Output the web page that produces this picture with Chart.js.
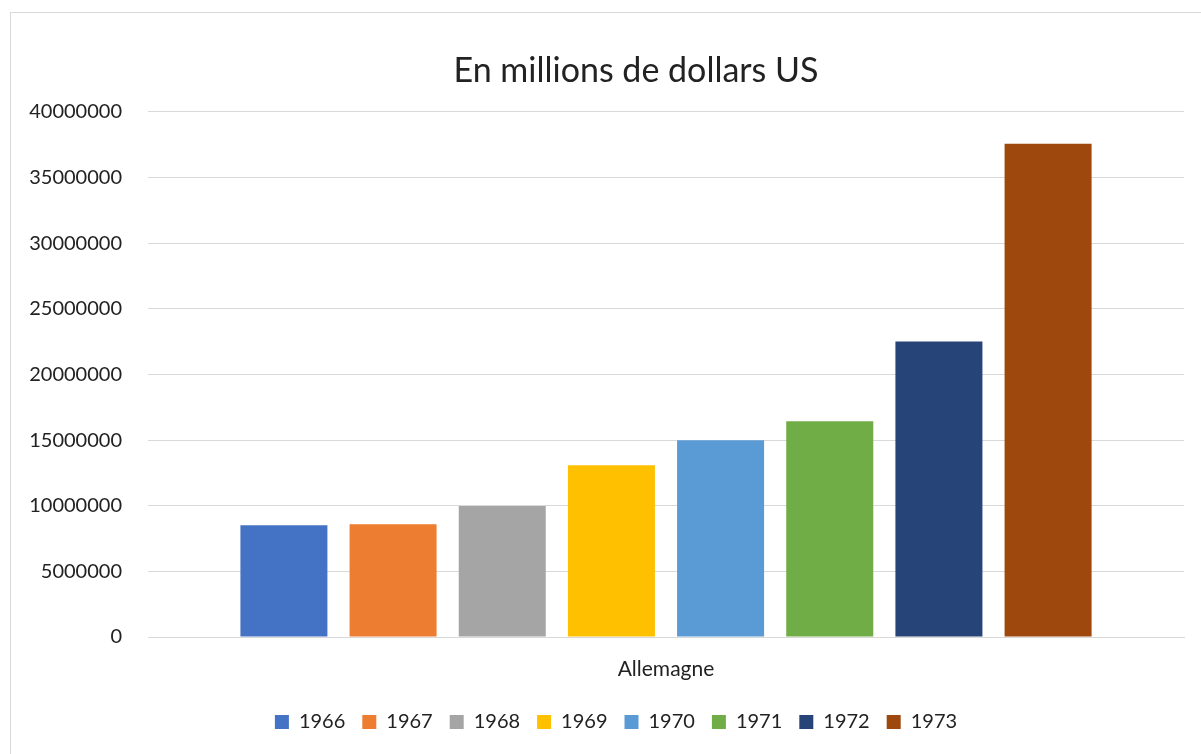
<!DOCTYPE html>
<html>
<head>
<meta charset="utf-8">
<script src="https://cdn.jsdelivr.net/npm/chart.js@4"></script>
<style>
  html, body { margin: 0; padding: 0; background: #fff; overflow: hidden; }
  #frame { position: absolute; left: 10px; top: 12px; width: 1200px; height: 760px; border: 1px solid #d9d9d9; box-sizing: border-box; }
  #chart { position: absolute; left: 0; top: 0; }
</style>
</head>
<body>
<div id="frame"></div>
<canvas id="chart" width="1201" height="754"></canvas>
<script>
// one category, one series per year
var categories = ['Allemagne'];
var years = ['1966', '1967', '1968', '1969', '1970', '1971', '1972', '1973'];
var values = [8520000, 8590000, 9980000, 13080000, 14980000, 16430000, 22510000, 37570000];
var colors = ['#4472C4', '#ED7D31', '#A5A5A5', '#FFC000', '#5B9BD5', '#70AD47', '#264478', '#9E480E'];

var font = 'Lato, "Open Sans", sans-serif';
var textColor = '#222';

var datasets = years.map(function (y, i) {
    return {
        label: y,
        data: [values[i]],
        backgroundColor: colors[i],
        borderWidth: 0
    };
});

// title and legend are centred on the frame, not on the plot
const boxShift = {
    id: 'boxShift',
    beforeDraw: function (chart) {
        var moves = [[chart.titleBlock, 44], [chart.legend, 24]];
        moves.forEach(function (m) {
            var b = m[0];
            if (b && !b._shifted) {
                b.left += m[1];
                b.right += m[1];
                b._shifted = true;
            }
        });
    }
};

const ctx = document.getElementById('chart');
new Chart(ctx, {
    type: 'bar',
    data: {
        labels: categories,
        datasets: datasets
    },
    plugins: [boxShift],
    options: {
        responsive: false,
        animation: false,
        devicePixelRatio: 1,
        categoryPercentage: 0.843,
        barPercentage: 0.797,
        layout: {
            padding: { left: 0, right: 17, top: 0, bottom: 12 }
        },
        plugins: {
            title: {
                display: true,
                text: 'En millions de dollars US',
                color: textColor,
                font: { family: font, size: 34, weight: 'normal' },
                padding: { top: 51, bottom: 20 }
            },
            legend: {
                position: 'bottom',
                labels: {
                    color: textColor,
                    font: { family: font, size: 20 },
                    boxWidth: 14,
                    boxHeight: 14,
                    padding: 17
                }
            },
            tooltip: { enabled: false }
        },
        scales: {
            x: {
                grid: { display: false },
                border: { display: true, color: '#d9d9d9' },
                ticks: {
                    color: textColor,
                    font: { family: font, size: 21 },
                    padding: 12
                },
                afterFit: function (s) { s.height = 58; }
            },
            y: {
                min: 0,
                max: 40000000,
                grid: { color: '#d9d9d9', drawTicks: false },
                border: { display: false },
                ticks: {
                    stepSize: 5000000,
                    color: textColor,
                    font: { family: font, size: 20 },
                    padding: 26,
                    callback: function (v) { return String(v); }
                },
                afterFit: function (s) { s.width = 148; }
            }
        }
    }
});
</script>
</body>
</html>
